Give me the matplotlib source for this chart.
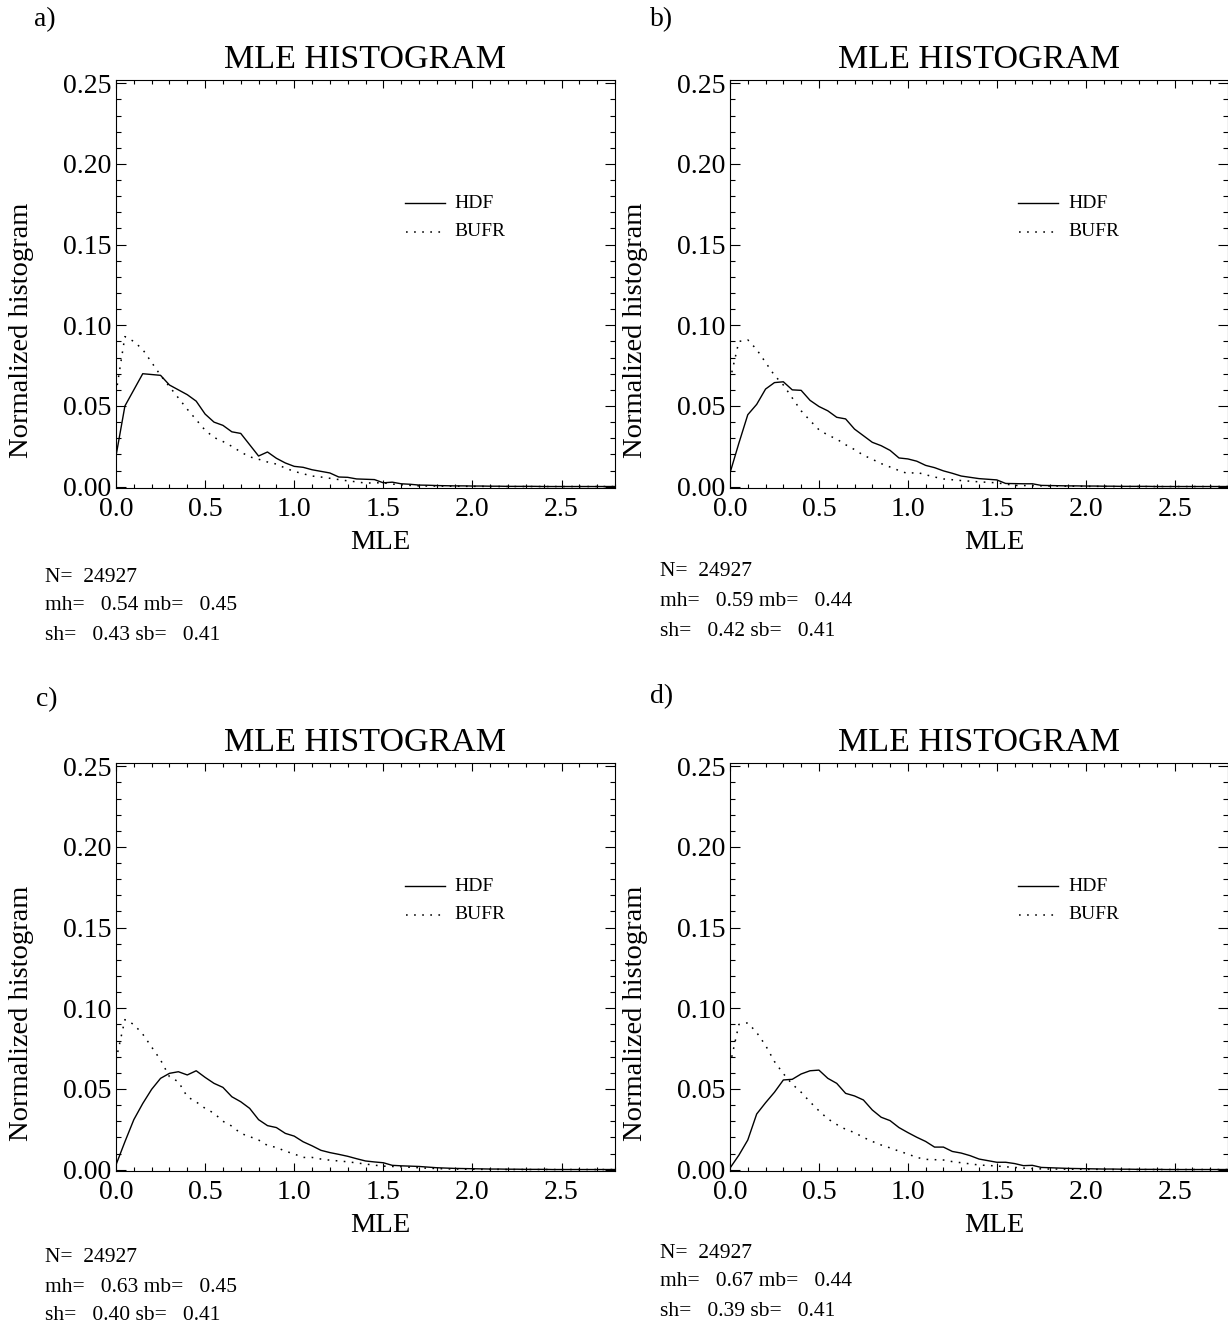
import matplotlib
matplotlib.use("Agg")
import matplotlib.pyplot as plt
from matplotlib.ticker import MultipleLocator, FormatStrFormatter

plt.rcParams['font.family'] = ['Liberation Serif', 'DejaVu Serif']

# ---------------- data ----------------
MLE_BINS = [0.00, 0.05, 0.10, 0.15, 0.20, 0.25, 0.30, 0.35, 0.40, 0.45,
            0.50, 0.55, 0.60, 0.65, 0.70, 0.75, 0.80, 0.85, 0.90, 0.95,
            1.00, 1.05, 1.10, 1.15, 1.20, 1.25, 1.30, 1.35, 1.40, 1.45,
            1.50, 1.55, 1.60, 1.65, 1.70, 1.75, 1.80, 1.85, 1.90, 1.95,
            2.00, 2.05, 2.10, 2.15, 2.20, 2.25, 2.30, 2.35, 2.40, 2.45,
            2.50, 2.55, 2.60, 2.65, 2.70, 2.75, 2.80]

HDF_A = [0.019, 0.050, 0.060, 0.070, 0.0695, 0.069, 0.063, 0.060, 0.057, 0.053,
         0.045, 0.040, 0.038, 0.034, 0.033, 0.026, 0.019, 0.0215, 0.0176, 0.0147,
         0.0126, 0.0120, 0.0105, 0.0095, 0.0085, 0.0060, 0.0058, 0.0048, 0.0046, 0.0044,
         0.0024, 0.0028, 0.0018, 0.0015, 0.0010, 0.0009, 0.0007, 0.0006, 0.0005, 0.0005,
         0.0004, 0.0004, 0.0003, 0.0003, 0.0002, 0.0002, 0.0002, 0.0002, 0.0001, 0.0001,
         0.0001, 0.0001, 0.0001, 0.0001, 0.0001, 0.0001, 0.0001]
BUFR_A = [0.058, 0.093, 0.090, 0.085, 0.077, 0.069, 0.062, 0.055, 0.048, 0.0415,
          0.035, 0.0305, 0.028, 0.025, 0.0215, 0.0185, 0.017, 0.0153, 0.014, 0.0115,
          0.0095, 0.0080, 0.0066, 0.0060, 0.0052, 0.0044, 0.0036, 0.0030, 0.0022, 0.0024,
          0.0024, 0.0016, 0.0012, 0.0008, 0.0005, 0.0004, 0.0004, 0.0003, 0.0003, 0.0002,
          0.0002, 0.0002, 0.0001, 0.0001, 0.0001, 0.0001, 0.0001, 0.0001, 0.0001, 0.0001,
          0.0001, 0.0001, 0.0001, 0.0001, 0.0001, 0.0001, 0.0001]

HDF_B = [0.0085, 0.027, 0.0446, 0.051, 0.0605, 0.0645, 0.065, 0.060, 0.0597, 0.0535,
         0.0497, 0.047, 0.043, 0.042, 0.0357, 0.0316, 0.0275, 0.0254, 0.0225, 0.0178,
         0.0172, 0.0158, 0.0132, 0.0118, 0.0098, 0.0083, 0.0066, 0.0058, 0.0050, 0.0046,
         0.0042, 0.0020, 0.0019, 0.0018, 0.0018, 0.0008, 0.0007, 0.0006, 0.0005, 0.0005,
         0.0004, 0.0004, 0.0003, 0.0003, 0.0002, 0.0002, 0.0002, 0.0002, 0.0001, 0.0001,
         0.0001, 0.0001, 0.0001, 0.0001, 0.0001, 0.0001, 0.0001]
BUFR_B = [0.066, 0.090, 0.091, 0.085, 0.077, 0.069, 0.063, 0.055, 0.047, 0.041,
          0.0353, 0.032, 0.0295, 0.026, 0.023, 0.0195, 0.017, 0.0143, 0.0122, 0.0100,
          0.0081, 0.0089, 0.0074, 0.0060, 0.0048, 0.0043, 0.0038, 0.0034, 0.0030, 0.0027,
          0.0024, 0.0016, 0.0008, 0.0007, 0.0006, 0.0005, 0.0004, 0.0004, 0.0003, 0.0003,
          0.0002, 0.0002, 0.0002, 0.0001, 0.0001, 0.0001, 0.0001, 0.0001, 0.0001, 0.0001,
          0.0001, 0.0001, 0.0001, 0.0001, 0.0001, 0.0001, 0.0001]

HDF_C = [0.003, 0.0173, 0.031, 0.041, 0.0498, 0.0566, 0.0597, 0.0607, 0.0587, 0.0613,
         0.0572, 0.0535, 0.051, 0.0452, 0.0421, 0.038, 0.031, 0.0273, 0.0261, 0.0225,
         0.0208, 0.0173, 0.0148, 0.0120, 0.0106, 0.0095, 0.0083, 0.0068, 0.0054, 0.0048,
         0.0043, 0.0027, 0.0024, 0.0022, 0.0020, 0.0016, 0.0012, 0.0010, 0.0008, 0.0007,
         0.0006, 0.0005, 0.0004, 0.0004, 0.0003, 0.0003, 0.0002, 0.0002, 0.0002, 0.0001,
         0.0001, 0.0001, 0.0001, 0.0001, 0.0001, 0.0001, 0.0001]
BUFR_C = [0.068, 0.093, 0.090, 0.084, 0.076, 0.068, 0.0576, 0.0545, 0.0452, 0.042,
          0.038, 0.035, 0.030, 0.027, 0.0225, 0.0205, 0.0184, 0.015, 0.0138, 0.0115,
          0.0097, 0.0076, 0.0076, 0.0066, 0.0059, 0.0054, 0.0049, 0.0042, 0.0035, 0.0028,
          0.0022, 0.0020, 0.0018, 0.0015, 0.0012, 0.0009, 0.0007, 0.0005, 0.0004, 0.0003,
          0.0003, 0.0002, 0.0002, 0.0002, 0.0001, 0.0001, 0.0001, 0.0001, 0.0001, 0.0001,
          0.0001, 0.0001, 0.0001, 0.0001, 0.0001, 0.0001, 0.0001]

HDF_D = [0.001, 0.009, 0.0184, 0.0345, 0.0415, 0.048, 0.0556, 0.056, 0.0593, 0.0613,
         0.0617, 0.0566, 0.0535, 0.0473, 0.0457, 0.0432, 0.037, 0.0325, 0.0304, 0.0261,
         0.0230, 0.0201, 0.0175, 0.0140, 0.0140, 0.0113, 0.0103, 0.0087, 0.0066, 0.0056,
         0.0046, 0.0046, 0.0038, 0.0025, 0.0027, 0.0014, 0.0012, 0.0010, 0.0008, 0.0007,
         0.0006, 0.0005, 0.0004, 0.0004, 0.0003, 0.0003, 0.0002, 0.0002, 0.0002, 0.0001,
         0.0001, 0.0001, 0.0001, 0.0001, 0.0001, 0.0001, 0.0001]
BUFR_D = [0.065, 0.090, 0.091, 0.085, 0.077, 0.067, 0.0595, 0.053, 0.048, 0.042,
          0.0365, 0.0315, 0.028, 0.025, 0.023, 0.020, 0.0175, 0.0153, 0.0135, 0.0115,
          0.0097, 0.0076, 0.0064, 0.0062, 0.0060, 0.0050, 0.0043, 0.0036, 0.0029, 0.0026,
          0.0023, 0.0018, 0.0014, 0.0010, 0.0007, 0.0005, 0.0004, 0.0004, 0.0003, 0.0003,
          0.0002, 0.0002, 0.0002, 0.0001, 0.0001, 0.0001, 0.0001, 0.0001, 0.0001, 0.0001,
          0.0001, 0.0001, 0.0001, 0.0001, 0.0001, 0.0001, 0.0001]

PANEL_LABELS = ["a)", "b)", "c)", "d)"]
N_VALUES = [24927, 24927, 24927, 24927]
MH = [0.54, 0.59, 0.63, 0.67]
MB = [0.45, 0.44, 0.45, 0.44]
SH = [0.43, 0.42, 0.40, 0.39]
SB = [0.41, 0.41, 0.41, 0.41]
HDF_SERIES = [HDF_A, HDF_B, HDF_C, HDF_D]
BUFR_SERIES = [BUFR_A, BUFR_B, BUFR_C, BUFR_D]
TITLE = "MLE HISTOGRAM"
XLABEL = "MLE"
YLABEL = "Normalized histogram"
LEGEND_NAMES = ["HDF", "BUFR"]

# ---------------- layout (pixels) ----------------
W, H = 1228, 1329
fig = plt.figure(figsize=(W / 100, H / 100), dpi=100)


def fx(x):
    return x / W


def fy(y):
    return 1 - y / H


AX_LEFT = [116, 730, 116, 730]
AX_TOP = [80, 80, 763, 763]
AX_W = [499, 498, 499, 498]
AX_H = 408.3
STATS_Y = [[577, 605, 635], [572, 602, 631], [1258, 1287, 1316], [1253, 1282, 1311]]
STATS_X = [45, 660, 45, 660]
LABEL_POS = [(45, 20), (662, 20), (47, 700), (662, 697)]

DOT = (0, (1.1, 4.2))

for i in range(4):
    l, t, w = AX_LEFT[i], AX_TOP[i], AX_W[i]
    ax = fig.add_axes([fx(l), fy(t + AX_H), w / W, AX_H / H])
    n = len(HDF_SERIES[i])
    ax.plot(MLE_BINS[:n], HDF_SERIES[i], color='black', lw=1.0)
    m = len(BUFR_SERIES[i])
    ax.plot(MLE_BINS[:m], BUFR_SERIES[i], color='black', lw=1.1, linestyle=DOT)
    ax.set_xlim(0, 2.8)
    ax.set_ylim(-0.001, 0.252)
    ax.xaxis.set_major_locator(MultipleLocator(0.5))
    ax.xaxis.set_minor_locator(MultipleLocator(0.1))
    ax.yaxis.set_major_locator(MultipleLocator(0.05))
    ax.yaxis.set_minor_locator(MultipleLocator(0.01))
    ax.xaxis.set_major_formatter(FormatStrFormatter('%.1f'))
    ax.yaxis.set_major_formatter(FormatStrFormatter('%.2f'))
    ax.tick_params(which='both', direction='in', top=True, right=True,
                   width=0.8, labelsize=20)
    ax.tick_params(axis='x', which='major', length=6, pad=6.5)
    ax.tick_params(axis='x', which='minor', length=2.8)
    ax.tick_params(axis='y', which='major', length=7.2, pad=3.5)
    ax.tick_params(axis='y', which='minor', length=3.6)
    for s in ax.spines.values():
        s.set_linewidth(0.8)

    # legend (drawn in axes fraction)
    ax.plot([0.579, 0.659], [0.699, 0.699], transform=ax.transAxes,
            color='black', lw=1.0)
    ax.plot([0.581, 0.659], [0.628, 0.628], transform=ax.transAxes,
            color='black', lw=1.1, linestyle=DOT)
    ax.text(0.679, 0.686, LEGEND_NAMES[0], transform=ax.transAxes,
            fontsize=14, va='baseline', ha='left')
    ax.text(0.679, 0.617, LEGEND_NAMES[1], transform=ax.transAxes,
            fontsize=14, va='baseline', ha='left')

    # titles / labels
    cx = l + w / 2
    fig.text(fx(cx), fy(t - 20), TITLE, fontsize=24.5, ha='center', va='center')
    fig.text(fx(l + 264), fy(t + 463), XLABEL, fontsize=20.5, ha='center', va='center')
    fig.text(fx(l - 94), fy(t + 250), YLABEL, fontsize=20.5, ha='center',
             va='center', rotation=90)
    lx, ly = LABEL_POS[i]
    fig.text(fx(lx), fy(ly), PANEL_LABELS[i], fontsize=20, ha='center', va='center')

    sx = STATS_X[i]
    sy = STATS_Y[i]
    fig.text(fx(sx), fy(sy[0]), "N=" + "%7d" % N_VALUES[i], fontsize=15.5,
             ha='left', va='center')
    fig.text(fx(sx), fy(sy[1]), "mh=" + "%7.2f" % MH[i] + " mb=" + "%7.2f" % MB[i],
             fontsize=15.5, ha='left', va='center')
    fig.text(fx(sx), fy(sy[2]), "sh=" + "%7.2f" % SH[i] + " sb=" + "%7.2f" % SB[i],
             fontsize=15.5, ha='left', va='center')

fig.savefig("out.png", dpi=100, facecolor='white')
